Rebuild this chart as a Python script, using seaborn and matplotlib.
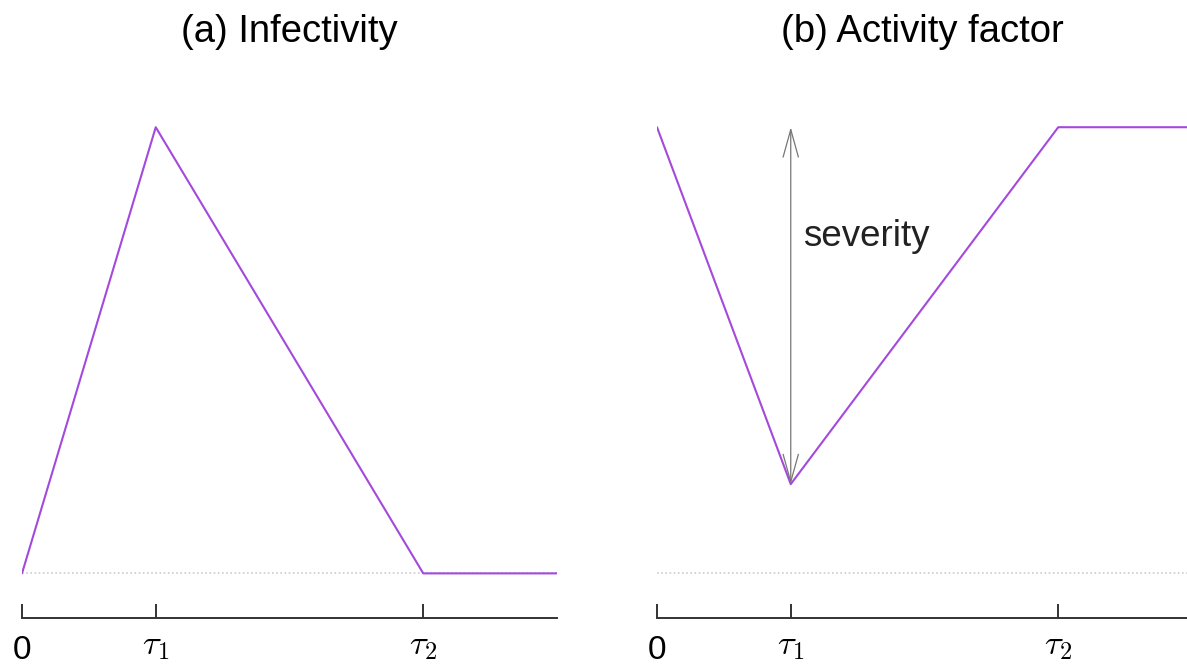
import matplotlib
matplotlib.use("Agg")
import matplotlib.pyplot as plt
import seaborn as sns
import pandas as pd

# Data
times = [0, 1, 3, 4]                      # 0, tau1, tau2, end
infectivity = [0.0, 1.0, 0.0, 0.0]
activity = [1.0, 0.2, 1.0, 1.0]
tick_pos = [0, 1, 3]
tick_labels = ["0", r"$\tau_1$", r"$\tau_2$"]
titles = ["(a) Infectivity", "(b) Activity factor"]
severity_label = "severity"

sns.set_style("white")
plt.rcParams["font.family"] = ["Liberation Sans", "DejaVu Sans"]
plt.rcParams["mathtext.fontset"] = "cm"

fig = plt.figure(figsize=(11.87, 6.64), dpi=100)
ax1 = fig.add_axes([22/1187, 46/664, 535/1187, 518/664])
ax2 = fig.add_axes([657/1187, 46/664, 530/1187, 518/664])

purple = "#a349dc"
df1 = pd.DataFrame({"t": times, "v": infectivity})
df2 = pd.DataFrame({"t": times, "v": activity})

for ax, df, title, xmax in [(ax1, df1, titles[0], 4.0), (ax2, df2, titles[1], 530/133.75)]:
    ax.axhline(0, color="#cccccc", lw=1.2, ls=(0, (1, 1.5)), zorder=1)
    sns.lineplot(data=df, x="t", y="v", ax=ax, color=purple, lw=1.5, zorder=3)
    ax.set_xlim(0, xmax)
    ax.set_ylim(-0.1, 1.061)
    ax.set_xlabel("")
    ax.set_ylabel("")
    ax.set_yticks([])
    ax.set_xticks(tick_pos)
    ax.set_xticklabels(tick_labels)
    ax.tick_params(axis="x", bottom=True, direction="in", length=10, width=1.4,
                   color="#333333", pad=6, labelcolor="black")
    for i, lab in enumerate(ax.get_xticklabels()):
        lab.set_fontsize(24 if i == 0 else 25)
        lab.set_y(-0.016 if i == 0 else -0.005)
    for s in ["top", "left", "right"]:
        ax.spines[s].set_visible(False)
    ax.spines["bottom"].set_color("#333333")
    ax.spines["bottom"].set_linewidth(1.4)
    ax.set_title(title, fontsize=27.5, pad=42, color="black")

# severity arrow
ax2.annotate("", xy=(1, activity[1]), xytext=(1, 1.0),
             arrowprops=dict(arrowstyle="<->,head_length=0.9,head_width=0.25",
                             color="#777777", lw=0.9,
                             mutation_scale=22, shrinkA=0, shrinkB=0))
ax2.text(1.09, 0.755, severity_label, fontsize=26.5, va="center", ha="left", color="#222222")

fig.savefig("out.png", dpi=100)
